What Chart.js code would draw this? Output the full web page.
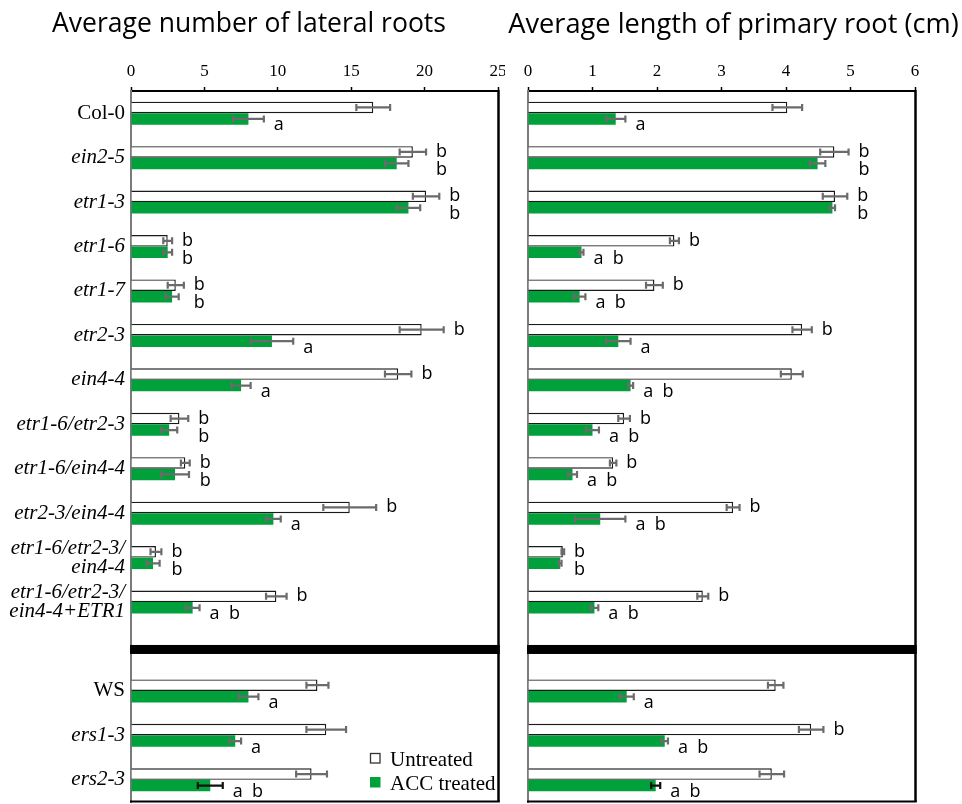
<!DOCTYPE html>
<html>
<head>
<meta charset="utf-8">
<script src="https://cdn.jsdelivr.net/npm/chart.js@4.4.0/dist/chart.umd.min.js"></script>
<style>
  html, body { margin: 0; padding: 0; background: #fff; }
  #wrap { position: relative; width: 962px; height: 804px; overflow: hidden; }
  canvas { position: absolute; top: 0; }
  #lateral { left: 0; }
  #length { left: 505px; }
</style>
</head>
<body>
<div id="wrap">
  <canvas id="lateral" width="505" height="804"></canvas>
  <canvas id="length" width="457" height="804"></canvas>
</div>
<script>
// Genotypes (an empty slot separates the Col-0 and WS backgrounds)
const genotypes = [
  'Col-0', 'ein2-5', 'etr1-3', 'etr1-6', 'etr1-7', 'etr2-3', 'ein4-4',
  'etr1-6/etr2-3', 'etr1-6/ein4-4', 'etr2-3/ein4-4',
  ['etr1-6/etr2-3/', 'ein4-4'], ['etr1-6/etr2-3/', 'ein4-4+ETR1'],
  '',
  'WS', 'ers1-3', 'ers2-3'
];
const uprightNames = ['Col-0', 'WS'];
const seriesNames = ['Untreated', 'ACC treated'];

// Average number of lateral roots
const lateralUntreated    = [16.5, 19.2, 20.1, 2.5, 3.05, 19.8, 18.2, 3.3, 3.7, 14.9, 1.7, 9.9, null, 12.7, 13.3, 12.3];
const lateralUntreatedErr = [1.15, 0.9, 0.9, 0.3, 0.55, 1.5, 0.9, 0.6, 0.3, 1.8, 0.37, 0.7, null, 0.75, 1.35, 1.05];
const lateralAcc          = [8.0, 18.1, 18.9, 2.5, 2.8, 9.6, 7.5, 2.6, 3.0, 9.7, 1.5, 4.2, null, 8.0, 7.1, 5.4];
const lateralAccErr       = [1.05, 0.8, 0.8, 0.3, 0.45, 1.45, 0.65, 0.55, 0.95, 0.5, 0.45, 0.47, null, 0.68, 0.4, 0.85];
const lateralLettersU     = ['', 'b', 'b', 'b', 'b', 'b', 'b', 'b', 'b', 'b', 'b', 'b', '', '', '', ''];
const lateralLettersAcc   = ['a', 'b', 'b', 'b', 'b', 'a', 'a', 'b', 'b', 'a', 'b', 'a  b', '', 'a', 'a', 'a  b'];
const lateralTicks        = [0, 5, 10, 15, 20, 25];

// Average length of primary root (cm)
const lengthUntreated     = [4.02, 4.75, 4.76, 2.27, 1.96, 4.25, 4.09, 1.49, 1.32, 3.18, 0.54, 2.71, null, 3.84, 4.39, 3.78];
const lengthUntreatedErr  = [0.23, 0.22, 0.19, 0.07, 0.13, 0.15, 0.17, 0.09, 0.05, 0.1, 0.02, 0.085, null, 0.12, 0.19, 0.19];
const lengthAcc           = [1.36, 4.49, 4.72, 0.83, 0.80, 1.40, 1.59, 1.00, 0.69, 1.12, 0.50, 1.03, null, 1.53, 2.12, 1.98];
const lengthAccErr        = [0.15, 0.12, 0.04, 0.03, 0.09, 0.19, 0.04, 0.10, 0.07, 0.39, 0.02, 0.06, null, 0.11, 0.05, 0.07];
const lengthLettersU      = ['', 'b', 'b', 'b', 'b', 'b', '', 'b', 'b', 'b', 'b', 'b', '', '', 'b', ''];
const lengthLettersAcc    = ['a', 'b', 'b', 'a  b', 'a  b', 'a', 'a  b', 'a  b', 'a  b', 'a  b', 'b', 'a  b', '', 'a', 'a  b', 'a  b'];
const lengthTicks         = [0, 1, 2, 3, 4, 5, 6];

const SERIF = '"Liberation Serif", "Times New Roman", serif';
const SANS = '"Open Sans", "DejaVu Sans", sans-serif';
const GREEN = '#00a13b';
const ERR_GREY = '#6b6b6b';

// Horizontal error bars with end caps, drawn from each bar's value and error
const errorBarsPlugin = {
  id: 'errorBars',
  afterDatasetsDraw(chart) {
    const { ctx } = chart;
    const xs = chart.scales.x;
    const last = genotypes.length - 1;
    chart.data.datasets.forEach((ds, di) => {
      const meta = chart.getDatasetMeta(di);
      meta.data.forEach((bar, i) => {
        const v = ds.data[i], e = ds.errors[i];
        if (v == null || e == null) return;
        const x0 = xs.getPixelForValue(v - e);
        const x1 = xs.getPixelForValue(v + e);
        const y = bar.y;
        ctx.save();
        ctx.strokeStyle = (di === 1 && i === last) ? '#111' : ERR_GREY;
        ctx.lineWidth = 2.2;
        ctx.beginPath();
        ctx.moveTo(x0, y); ctx.lineTo(x1, y);
        ctx.moveTo(x0, y - 3.5); ctx.lineTo(x0, y + 3.5);
        ctx.moveTo(x1, y - 3.5); ctx.lineTo(x1, y + 3.5);
        ctx.stroke();
        ctx.restore();
      });
    });
  }
};

// Significance letters to the right of each error bar
const lettersPlugin = {
  id: 'sigLetters',
  afterDatasetsDraw(chart) {
    const { ctx } = chart;
    const xs = chart.scales.x;
    const [dsU, dsA] = chart.data.datasets;
    const barsU = chart.getDatasetMeta(0).data;
    const barsA = chart.getDatasetMeta(1).data;
    ctx.save();
    ctx.font = '18px ' + SANS;
    ctx.fillStyle = '#000';
    ctx.textAlign = 'left';
    ctx.textBaseline = 'alphabetic';
    genotypes.forEach((g, i) => {
      const lu = dsU.letters[i], la = dsA.letters[i];
      let xu = dsU.data[i] != null ? xs.getPixelForValue(dsU.data[i] + dsU.errors[i]) + 10 : 0;
      let xa = dsA.data[i] != null ? xs.getPixelForValue(dsA.data[i] + dsA.errors[i]) + 10 : 0;
      if (lu && la && lu === la) { xu = xa = Math.max(xu, xa); }
      if (lu) ctx.fillText(lu, xu, barsU[i].y + 5);
      if (la) ctx.fillText(la, xa, barsA[i].y + 11.5);
    });
    ctx.restore();
  }
};

// Right/bottom frame and the black band across the empty slot
const framePlugin = {
  id: 'frame',
  afterDraw(chart) {
    const { ctx, chartArea: a } = chart;
    const ys = chart.scales.y;
    ctx.save();
    ctx.strokeStyle = '#000';
    ctx.lineWidth = 2.5;
    ctx.beginPath();
    ctx.moveTo(a.right + 0.5, a.top - 1);
    ctx.lineTo(a.right + 0.5, a.bottom);
    ctx.stroke();
    ctx.lineWidth = 2;
    ctx.beginPath();
    ctx.moveTo(a.left - 1, a.bottom - 0.5);
    ctx.lineTo(a.right + 1.75, a.bottom - 0.5);
    ctx.stroke();
    const gap = genotypes.indexOf('');
    const yc = ys.getPixelForValue(gap);
    ctx.fillStyle = '#000';
    ctx.fillRect(a.left - 1, yc - 1.5, a.right - a.left + 2.75, 9);
    ctx.restore();
  }
};

// Series key in the lower right corner of the plot
const cornerLegendPlugin = {
  id: 'cornerLegend',
  afterDraw(chart, args, opts) {
    if (!opts.show) return;
    const { ctx, chartArea: a } = chart;
    ctx.save();
    ctx.font = '21px ' + SERIF;
    ctx.textAlign = 'left';
    ctx.textBaseline = 'alphabetic';
    chart.data.datasets.forEach((ds, i) => {
      const top = a.bottom - 49 + i * 24;
      const left = a.right - 128;
      if (i === 0) {
        ctx.fillStyle = '#fff';
        ctx.fillRect(left, top, 10, 10);
        ctx.strokeStyle = '#333';
        ctx.lineWidth = 1.3;
        ctx.strokeRect(left + 0.5, top + 0.5, 9.5, 9.5);
      } else {
        ctx.fillStyle = ds.backgroundColor;
        ctx.fillRect(left, top, 10.5, 10.5);
      }
      ctx.fillStyle = '#000';
      ctx.fillText(ds.label, a.right - 108, top + 12.5);
    });
    ctx.restore();
  }
};

function buildPanel(canvasId, p) {
  return new Chart(document.getElementById(canvasId), {
    type: 'bar',
    data: {
      labels: genotypes,
      datasets: [
        {
          label: seriesNames[0],
          data: p.untreated,
          errors: p.untreatedErr,
          letters: p.lettersU,
          backgroundColor: '#ffffff',
          borderColor: '#1a1a1a',
          borderWidth: 1.4,
          categoryPercentage: 0.5175,
          barPercentage: 1.0
        },
        {
          label: seriesNames[1],
          data: p.acc,
          errors: p.accErr,
          letters: p.lettersAcc,
          backgroundColor: GREEN,
          borderWidth: 0,
          categoryPercentage: 0.5175,
          barPercentage: 1.0
        }
      ]
    },
    options: {
      indexAxis: 'y',
      responsive: false,
      animation: false,
      events: [],
      layout: { padding: { left: 0, right: p.layoutPadRight, top: 0, bottom: 2 } },
      plugins: {
        legend: { display: false },
        tooltip: { enabled: false },
        title: {
          display: true,
          text: p.title,
          color: '#000',
          font: { family: SANS, size: p.titleSize, weight: 'normal', lineHeight: 1.2 },
          padding: { top: 9, bottom: 0 }
        },
        cornerLegend: { show: p.showLegend }
      },
      scales: {
        x: {
          type: 'linear',
          position: 'top',
          min: p.ticks[0],
          max: p.ticks[p.ticks.length - 1],
          afterBuildTicks: (scale) => { scale.ticks = p.ticks.map(v => ({ value: v })); },
          afterFit: (scale) => {
            scale.height = 91 - 9 - p.titleSize * 1.2;
            scale.paddingLeft = 0;
            scale.paddingRight = p.axisPadRight;
          },
          grid: { drawOnChartArea: false, drawTicks: true, tickLength: 4, tickColor: '#000', tickWidth: 1.5 },
          border: { display: true, color: '#000', width: 2 },
          ticks: {
            color: '#000',
            padding: 5,
            maxRotation: 0,
            font: { family: SERIF, size: 17 },
            callback: (v) => String(v)
          }
        },
        y: {
          type: 'category',
          afterFit: (scale) => {
            scale.width = p.axisWidth;
            scale.paddingTop = 0;
            scale.paddingBottom = 0;
          },
          grid: { display: false, drawTicks: false },
          border: { display: true, color: '#7a7a7a', width: 2 },
          ticks: {
            display: p.showLabels,
            autoSkip: false,
            padding: 6,
            color: '#000',
            font: (c) => ({
              family: SERIF,
              size: 21,
              lineHeight: 0.9,
              style: uprightNames.includes(genotypes[c.index]) ? 'normal' : 'italic'
            })
          }
        }
      }
    },
    plugins: [errorBarsPlugin, lettersPlugin, framePlugin, cornerLegendPlugin]
  });
}

buildPanel('lateral', {
  title: 'Average number of lateral roots',
  titleSize: 26.5,
  untreated: lateralUntreated, untreatedErr: lateralUntreatedErr,
  acc: lateralAcc, accErr: lateralAccErr,
  lettersU: lateralLettersU, lettersAcc: lateralLettersAcc,
  ticks: lateralTicks,
  showLabels: true, showLegend: true,
  axisWidth: 131, layoutPadRight: 7, axisPadRight: 0
});

buildPanel('length', {
  title: 'Average length of primary root (cm)',
  titleSize: 27.2,
  untreated: lengthUntreated, untreatedErr: lengthUntreatedErr,
  acc: lengthAcc, accErr: lengthAccErr,
  lettersU: lengthLettersU, lettersAcc: lengthLettersAcc,
  ticks: lengthTicks,
  showLabels: false, showLegend: false,
  axisWidth: 23, layoutPadRight: 0, axisPadRight: 47
});
</script>
</body>
</html>
